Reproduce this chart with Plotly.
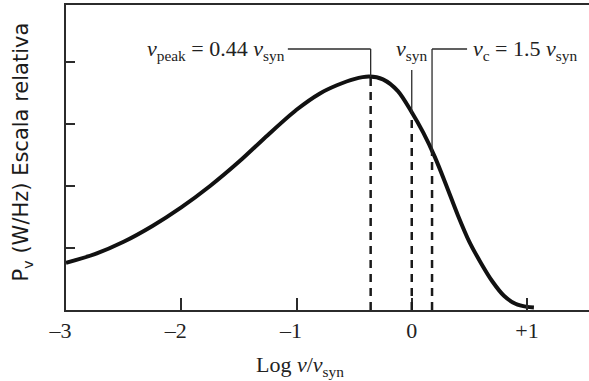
import numpy as np
import plotly.graph_objects as go

# Synchrotron spectrum of a single electron, relative power vs log(nu/nu_syn)
log_ratio = [-3.0, -2.75, -2.5, -2.25, -2.0, -1.75, -1.5, -1.25, -1.0,
             -0.8, -0.65, -0.5, -0.37, -0.25, -0.12, 0.0, 0.1, 0.2,
             0.3, 0.4, 0.5, 0.6, 0.7, 0.8, 0.9, 1.0, 1.06]
power_rel = [0.76, 0.90, 1.10, 1.355, 1.655, 2.00, 2.39, 2.82, 3.23,
             3.49, 3.625, 3.725, 3.765, 3.72, 3.53, 3.19, 2.86, 2.47,
             2.01, 1.53, 1.10, 0.76, 0.46, 0.23, 0.10, 0.05, 0.04]

# Characteristic frequencies (in units of nu_syn)
nu_peak_ratio = 0.44
nu_syn_ratio = 1.0
nu_c_ratio = 1.5

x_ticks = [-3, -2, -1, 0, 1]
# en space after the dash keeps the digit centred on its tick
x_tick_text = ["\u20133\u2002", "\u20132\u2002", "\u20131\u2002", "0", "+1"]
y_ticks = [1, 2, 3, 4]

X_RANGE = [-3, 1.538]
Y_RANGE = [0, 4.92]
LEADER_Y = 4.21
SERIF = "Liberation Serif, Times New Roman, serif"
SANS = "DejaVu Sans, Arial, sans-serif"
INK = "#2b2b2b"

fig = go.Figure()

fig.add_trace(go.Scatter(
    x=log_ratio, y=power_rel, mode="lines",
    line=dict(color="#111111", width=4, shape="spline", smoothing=0.8),
    hoverinfo="skip", showlegend=False))

marks = {
    "peak": np.log10(nu_peak_ratio),
    "syn": np.log10(nu_syn_ratio),
    "c": np.log10(nu_c_ratio),
}
curve_at = {k: float(np.interp(v, log_ratio, power_rel)) for k, v in marks.items()}

# dashed drops from the curve to the axis
for k, xv in marks.items():
    fig.add_shape(type="line", x0=xv, x1=xv, y0=0, y1=curve_at[k],
                  line=dict(color="#1a1a1a", width=2.5, dash="8px,6px"))

# leader lines
thin = dict(color=INK, width=1.3)
fig.add_shape(type="line", x0=-1.075, x1=marks["peak"], y0=LEADER_Y, y1=LEADER_Y, line=thin)
fig.add_shape(type="line", x0=marks["peak"], x1=marks["peak"], y0=LEADER_Y, y1=curve_at["peak"], line=thin)
fig.add_shape(type="line", x0=marks["syn"], x1=marks["syn"], y0=3.87, y1=curve_at["syn"], line=thin)
fig.add_shape(type="line", x0=marks["c"], x1=0.48, y0=LEADER_Y, y1=LEADER_Y, line=thin)
fig.add_shape(type="line", x0=marks["c"], x1=marks["c"], y0=LEADER_Y, y1=curve_at["c"], line=thin)

lab_font = dict(family=SERIF, size=22, color="#222222")
fig.add_annotation(x=-1.08, y=LEADER_Y, xref="x", yref="y", xanchor="right", yanchor="middle",
                   text="<i>\u03bd</i><sub>peak</sub> = 0.44 <i>\u03bd</i><sub>syn</sub>",
                   showarrow=False, font=lab_font, yshift=-1)
fig.add_annotation(x=marks["syn"], y=LEADER_Y, xref="x", yref="y", xanchor="center", yanchor="middle",
                   text="<i>\u03bd</i><sub>syn</sub>", showarrow=False, font=lab_font, yshift=-1)
fig.add_annotation(x=0.51, y=LEADER_Y, xref="x", yref="y", xanchor="left", yanchor="middle",
                   text="<i>\u03bd</i><sub>c</sub> = 1.5 <i>\u03bd</i><sub>syn</sub>",
                   showarrow=False, font=lab_font, yshift=-1)

# axis titles
fig.add_annotation(x=-0.97, y=0, xref="x", yref="paper", xanchor="center", yanchor="top",
                   yshift=-40, showarrow=False,
                   text="Log <i>\u03bd</i>/<i>\u03bd</i><sub>syn</sub>",
                   font=dict(family=SERIF, size=22, color="#222222"))
fig.add_annotation(x=0, y=0.516, xref="paper", yref="paper", xanchor="center", yanchor="middle",
                   xshift=-44, textangle=-90, showarrow=False,
                   text="P<sub>v</sub> (W/Hz) Escala relativa",
                   font=dict(family=SANS, size=21, color="#1a1a1a"))

fig.update_xaxes(range=X_RANGE, tickvals=x_ticks, ticktext=x_tick_text,
                 ticks="inside", ticklen=12, tickwidth=1.5, tickcolor=INK,
                 showline=True, linecolor=INK, linewidth=2, mirror=True,
                 showgrid=False, zeroline=False,
                 tickfont=dict(family=SERIF, size=22, color="#222222"))
fig.update_yaxes(range=Y_RANGE, tickvals=y_ticks, showticklabels=False,
                 ticks="inside", ticklen=9, tickwidth=1.5, tickcolor=INK,
                 showline=True, linecolor=INK, linewidth=2,
                 showgrid=False, zeroline=False)

fig.update_layout(width=589, height=381, margin=dict(l=66, r=0, t=5, b=71),
                  plot_bgcolor="white", paper_bgcolor="white")

fig.write_html("out.html")
